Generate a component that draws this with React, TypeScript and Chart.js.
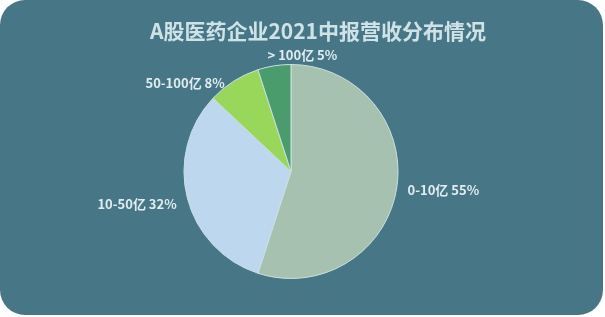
import React, { useEffect, useRef } from "react";
import { Chart, registerables } from "chart.js";

Chart.register(...registerables);

const title = "A股医药企业2021中报营收分布情况";
const categories = ["0-10亿", "10-50亿", "50-100亿", "> 100亿"];
const shares = [55, 32, 8, 5];
const colors = ["#a6c1af", "#bdd7ee", "#99d75a", "#4a9c6c"];

// label placement styling (not data)
const labelAlign: CanvasTextAlign[] = ["left", "right", "right", "left"];
const labelNudge = [
  [0, 0],
  [0, 3],
  [-3, 11],
  [-5, 0],
];

const labelPlugin = {
  id: "outerLabels",
  afterDatasetsDraw(chart: any) {
    const ctx = chart.ctx;
    const meta = chart.getDatasetMeta(0);
    ctx.save();
    ctx.font = "bold 13px 'Noto Sans CJK SC', 'Noto Sans', sans-serif";
    ctx.fillStyle = "#e1ecf0";
    ctx.textBaseline = "middle";
    meta.data.forEach((arc: any, i: number) => {
      const p = arc.getProps(["x", "y", "startAngle", "endAngle", "outerRadius"], true);
      const mid = (p.startAngle + p.endAngle) / 2;
      const r = p.outerRadius + 11;
      const x = p.x + Math.cos(mid) * r + labelNudge[i][0];
      const y = p.y + Math.sin(mid) * r + labelNudge[i][1];
      ctx.textAlign = labelAlign[i];
      ctx.fillText(`${categories[i]} ${shares[i]}%`, x, y);
    });
    ctx.restore();
  },
};

const titlePlugin = {
  id: "customTitle",
  afterDraw(chart: any) {
    const ctx = chart.ctx;
    ctx.save();
    ctx.font = "bold 21px 'Noto Sans CJK SC', 'Noto Sans', sans-serif";
    ctx.fillStyle = "#cfe2e8";
    ctx.textAlign = "center";
    ctx.textBaseline = "middle";
    ctx.fillText(title, 318, 31);
    ctx.restore();
  },
};

export default function App() {
  const ref = useRef<HTMLCanvasElement | null>(null);
  useEffect(() => {
    document.body.style.margin = "0";
    const chart = new Chart(ref.current!, {
      type: "pie",
      data: {
        labels: categories,
        datasets: [
          {
            data: shares,
            backgroundColor: colors,
            borderColor: "#cddfe3",
            borderWidth: 1,
          },
        ],
      },
      options: {
        animation: false,
        responsive: false,
        maintainAspectRatio: false,
        layout: { padding: { top: 64, bottom: 36, left: 150, right: 171 } },
        plugins: {
          legend: { display: false },
          tooltip: { enabled: false },
          title: { display: false },
        },
      },
      plugins: [labelPlugin, titlePlugin],
    });
    return () => chart.destroy();
  }, []);
  return (
    <div
      style={{
        position: "absolute",
        left: 0,
        top: 0,
        width: 603,
        height: 315,
        background: "#477787",
        borderRadius: 25,
        overflow: "hidden",
      }}
    >
      <canvas ref={ref} width={603} height={315} style={{ display: "block" }} />
    </div>
  );
}
